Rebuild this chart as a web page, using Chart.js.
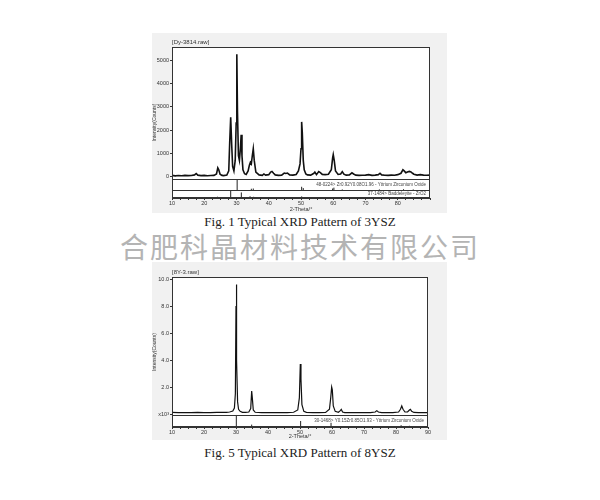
<!DOCTYPE html>
<html>
<head>
<meta charset="utf-8">
<script src="https://cdn.jsdelivr.net/npm/chart.js@4"></script>
<style>
  body { margin: 0; width: 600px; height: 500px; background: #fff; position: relative; overflow: hidden; }
  .box { position: absolute; left: 152px; width: 295px; background: #f1f1f1; }
  #box1 { top: 33px; height: 180px; }
  #box2 { top: 262px; height: 178px; }
  .caption { position: absolute; left: 0; width: 600px; text-align: center; font: 13px "Liberation Serif", serif; color: #222; }
  #cap1 { top: 214px; }
  #cap2 { top: 445px; }
  #watermark { position: absolute; left: 0; width: 600px; top: 226px; text-align: center; font: 28px "Noto Sans CJK SC", sans-serif; letter-spacing: 2px; color: #b4b4b4; }
</style>
</head>
<body>
<div class="box" id="box1"><canvas id="chart1"></canvas></div>
<div class="caption" id="cap1">Fig. 1 Typical XRD Pattern of 3YSZ</div>
<div id="watermark">合肥科晶材料技术有限公司</div>
<div class="box" id="box2"><canvas id="chart2"></canvas></div>
<div class="caption" id="cap2">Fig. 5 Typical XRD Pattern of 8YSZ</div>
<script>
// ---- 3YSZ pattern (counts)
const theta1 = [10, 11, 12, 13, 14, 15, 16, 17, 17.5, 18, 19, 20, 21, 22, 23, 23.8, 24.2, 24.5, 24.9, 25.5, 26, 27, 27.6, 27.9, 28.2, 28.5, 28.8, 29.2, 29.6, 29.9, 30.1, 30.3, 30.6, 30.9, 31.2, 31.45, 31.7, 32, 32.5, 33, 33.6, 34, 34.3, 34.6, 34.9, 35.2, 35.5, 36, 37, 38, 38.5, 39, 40, 40.6, 41, 41.5, 42, 43, 44, 44.8, 45.3, 45.8, 46.5, 47.5, 48.5, 49.2, 49.7, 50, 50.2, 50.4, 50.7, 51, 51.5, 52, 53, 54, 54.3, 54.8, 55.5, 56, 56.6, 57.5, 58.5, 59.4, 59.8, 60, 60.3, 60.7, 61.5, 62.3, 62.8, 63.3, 64, 65, 65.8, 66.3, 67, 68, 69, 70, 71, 72, 73, 74, 74.5, 75, 76, 77, 78, 79, 80, 81, 81.6, 82, 82.5, 83, 83.6, 84.1, 84.6, 85, 86, 87, 88, 89, 90]
const counts1 = [60, 40, 55, 45, 60, 50, 55, 80, 140, 70, 50, 60, 45, 55, 60, 120, 380, 300, 110, 60, 50, 70, 250, 1500, 2550, 1400, 450, 250, 700, 2300, 5250, 2800, 900, 700, 1200, 1800, 900, 300, 130, 100, 250, 500, 620, 550, 900, 1200, 700, 200, 80, 60, 120, 70, 90, 200, 230, 150, 80, 60, 70, 160, 140, 160, 80, 70, 100, 250, 550, 1200, 2350, 1900, 700, 300, 120, 80, 70, 150, 200, 90, 220, 180, 100, 90, 110, 300, 800, 950, 700, 250, 100, 120, 220, 110, 70, 80, 170, 120, 70, 60, 65, 70, 90, 60, 70, 90, 150, 80, 65, 60, 70, 65, 90, 150, 300, 250, 170, 200, 230, 210, 150, 110, 70, 90, 70, 65, 70]
// reference cards (relative intensity)
const yszPos1 = [30.2, 34.6, 35.2, 50.2, 50.7, 59.8, 60.2, 62.8, 74.3, 81.8, 84.8]
const yszInt1 = [100, 12, 14, 30, 18, 14, 22, 6, 6, 8, 6]
const badPos = [17.4, 24.1, 24.5, 28.2, 31.5, 34.2, 34.4, 35.3, 38.6, 40.8, 41.0, 44.9, 45.5, 49.3, 50.2, 54.1, 55.4, 55.7, 57.2, 59.9, 62.9, 65.7]
const badInt = [8, 16, 12, 100, 70, 22, 12, 15, 6, 10, 8, 6, 8, 12, 20, 12, 12, 8, 6, 10, 8, 6]
const yTicks1 = [0, 1000, 2000, 3000, 4000, 5000]
const xLabels1 = [10, 20, 30, 40, 50, 60, 70, 80]

// ---- 8YSZ pattern (x10^3 counts)
const theta2 = [10, 12, 14, 16, 18, 20, 22, 24, 26, 27, 28, 29, 29.5, 29.8, 30.0, 30.1, 30.25, 30.5, 30.8, 31.3, 32, 33, 34, 34.6, 34.9, 35.1, 35.4, 36, 38, 40, 42, 44, 46, 48, 49.3, 49.8, 50.1, 50.3, 50.6, 51.2, 52, 54, 56, 58, 59.2, 59.6, 59.9, 60.1, 60.4, 61, 62, 62.6, 62.9, 63.3, 64, 66, 68, 70, 72, 73.5, 74, 74.5, 75.5, 77, 79, 80.8, 81.4, 81.8, 82.2, 82.8, 83.6, 84.2, 84.5, 84.9, 85.6, 87, 89, 90]
const counts2 = [0.12, 0.1, 0.11, 0.1, 0.12, 0.1, 0.11, 0.12, 0.12, 0.13, 0.15, 0.22, 0.45, 1.5, 8.0, 9.6, 4.0, 0.9, 0.35, 0.2, 0.13, 0.12, 0.15, 0.4, 1.7, 1.2, 0.3, 0.13, 0.1, 0.11, 0.1, 0.11, 0.1, 0.13, 0.3, 1.2, 3.7, 2.6, 0.7, 0.2, 0.12, 0.1, 0.11, 0.12, 0.35, 1.2, 2.0, 1.8, 0.6, 0.2, 0.13, 0.25, 0.35, 0.15, 0.1, 0.11, 0.1, 0.11, 0.1, 0.15, 0.25, 0.15, 0.1, 0.1, 0.11, 0.15, 0.35, 0.6, 0.35, 0.15, 0.15, 0.3, 0.35, 0.2, 0.12, 0.1, 0.1, 0.1]
const yszPos2 = [30.1, 34.9, 50.2, 59.7, 62.6, 73.7, 81.6, 84.2]
const yszInt2 = [100, 20, 50, 35, 8, 8, 15, 10]
const yTicks2 = [0, 2, 4, 6, 8, 10]
const xLabels2 = [10, 20, 30, 40, 50, 60, 70, 80, 90]

function points(xs, ys) {
    return xs.map((x, i) => ({ x: x, y: ys[i] }))
}

// vertical sticks for a reference card, inside band [base, top]
function sticks(pos, inten, base, top) {
    let pts = []
    pos.forEach((p, i) => {
        pts.push({ x: p, y: base }, { x: p, y: base + (top - base) * inten[i] / 100 }, { x: p, y: null })
    })
    return pts
}

const framePlugin = {
    id: 'frame',
    beforeDraw(chart) {
        const a = chart.chartArea
        chart.ctx.save()
        chart.ctx.fillStyle = '#fff'
        chart.ctx.fillRect(a.left, a.top, a.width, a.height)
        chart.ctx.restore()
    },
    afterDraw(chart, args, opts) {
        const ctx = chart.ctx
        const a = chart.chartArea
        const y = chart.scales.y
        ctx.save()
        ctx.strokeStyle = '#333'
        ctx.lineWidth = 1
        ctx.strokeRect(a.left + 0.5, a.top + 0.5, a.width - 1, a.height - 1)
        opts.edges.forEach(v => {
            const py = Math.round(y.getPixelForValue(v)) + 0.5
            ctx.beginPath()
            ctx.moveTo(a.left, py)
            ctx.lineTo(a.right, py)
            ctx.stroke()
        })
        ctx.font = '4.5px "Liberation Sans"'
        ctx.fillStyle = '#444'
        ctx.textAlign = 'right'
        ctx.textBaseline = 'middle'
        opts.labels.forEach((t, i) => {
            const band = opts.bands[i]
            const py = (y.getPixelForValue(band[0]) + y.getPixelForValue(band[1])) / 2
            ctx.fillText(t, a.right - 4, py)
        })
        ctx.restore()
    }
}

function XrdChart(id, cfg) {
    const ctx = document.getElementById(id)
    const datasets = [{
        data: points(cfg.theta, cfg.counts),
        borderColor: '#111',
        borderWidth: cfg.lineWidth,
        pointRadius: 0
    }]
    cfg.cards.forEach(c => {
        datasets.push({
            data: sticks(c.pos, c.inten, c.band[0], c.band[1]),
            borderColor: '#222',
            borderWidth: 1,
            pointRadius: 0,
            spanGaps: false
        })
    })
    return new Chart(ctx, {
        type: 'line',
        data: { datasets: datasets },
        plugins: [framePlugin],
        options: {
            animation: false,
            responsive: true,
            maintainAspectRatio: false,
            layout: { padding: { right: cfg.right } },
            scales: {
                x: {
                    type: 'linear',
                    min: 10,
                    max: 90,
                    afterBuildTicks: scale => {
                        let t = []
                        for (let v = 10; v <= 90; v += 2.5) t.push({ value: v })
                        scale.ticks = t
                    },
                    afterFit: scale => { scale.height = cfg.xHeight },
                    ticks: {
                        autoSkip: false,
                        maxRotation: 0,
                        padding: 0,
                        color: '#333',
                        font: { size: 5.5, family: 'Liberation Sans' },
                        callback: v => cfg.xLabels.includes(v) ? String(v) : ''
                    },
                    grid: { drawOnChartArea: false, tickLength: 2, color: '#333' },
                    border: { color: '#333' },
                    title: { display: true, text: '2-Theta/°', color: '#333', padding: 0, font: { size: 5.5, family: 'Liberation Sans' } }
                },
                y: {
                    min: cfg.yMin,
                    max: cfg.yMax,
                    afterBuildTicks: scale => { scale.ticks = cfg.yTicks.map(v => ({ value: v })) },
                    afterFit: scale => { scale.width = 20 },
                    ticks: {
                        padding: 1,
                        color: '#333',
                        font: { size: 5.5, family: 'Liberation Sans' },
                        callback: cfg.yLabel
                    },
                    grid: { drawOnChartArea: false, tickLength: 2, color: '#333' },
                    border: { color: '#333' },
                    title: { display: true, text: 'Intensity(Counts)', color: '#333', padding: 0, font: { size: 5, family: 'Liberation Sans' } }
                }
            },
            plugins: {
                legend: { display: false },
                tooltip: { enabled: false },
                title: {
                    display: true,
                    text: cfg.file,
                    align: 'start',
                    fullSize: false,
                    color: '#333',
                    font: { size: 6, family: 'Liberation Sans', weight: 'normal' },
                    padding: { top: cfg.top - 8.2, bottom: 1 }
                },
                frame: { edges: cfg.edges, bands: cfg.cards.map(c => c.band), labels: cfg.cards.map(c => c.label) }
            }
        }
    })
}

XrdChart('chart1', {
    theta: theta1,
    counts: counts1,
    lineWidth: 1.6,
    yMin: -910,
    yMax: 5560,
    yTicks: yTicks1,
    yLabel: v => String(v),
    xLabels: xLabels1,
    xHeight: 15,
    top: 14,
    right: 17,
    file: '[Dy-3814.raw]',
    edges: [-100, -570],
    cards: [
        { pos: yszPos1, inten: yszInt1, band: [-570, -100], label: '48-0224> Zr0.92Y0.08O1.96 - Yttrium Zirconium Oxide' },
        { pos: badPos, inten: badInt, band: [-910, -570], label: '37-1484> Baddeleyite - ZrO2' }
    ]
})

XrdChart('chart2', {
    theta: theta2,
    counts: counts2,
    lineWidth: 1.2,
    yMin: -0.96,
    yMax: 10.15,
    yTicks: yTicks2,
    yLabel: v => v === 0 ? 'x10³' : v.toFixed(1),
    xLabels: xLabels2,
    xHeight: 13,
    top: 15,
    right: 19,
    file: '[8Y-3.raw]',
    edges: [-0.07],
    cards: [
        { pos: yszPos2, inten: yszInt2, band: [-0.96, -0.07], label: '30-1468> Y0.15Zr0.85O1.93 - Yttrium Zirconium Oxide' }
    ]
})
</script>
</body>
</html>
